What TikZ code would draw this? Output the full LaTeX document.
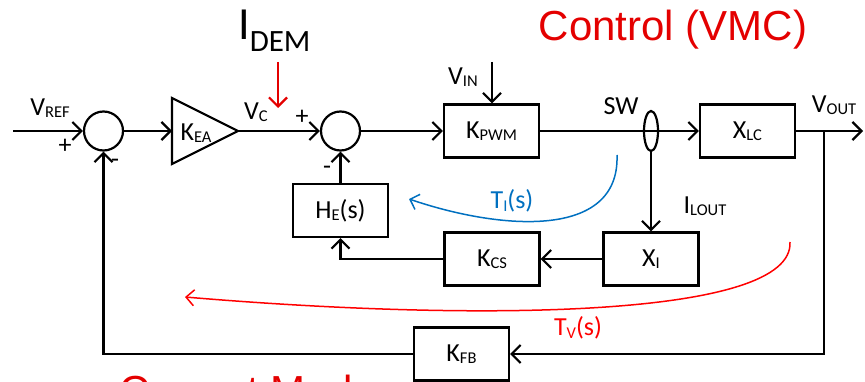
\documentclass[tikz,border=0pt]{standalone}
\usepackage{fontspec}
\setmainfont{Carlito}
\newfontfamily\arialfont{Liberation Sans}
\usetikzlibrary{shapes.geometric}
\usetikzlibrary{arrows.meta}
\usetikzlibrary{positioning}
\definecolor{vmcred}{RGB}{228,0,0}
\definecolor{tiblue}{RGB}{0,112,192}
\newcommand{\lo}[1]{\raisebox{-2.5pt}{\fontsize{16.5}{18}\selectfont #1}}
\tikzset{
  label_node/.style = {inner sep=0pt, font=\fontsize{26}{30}\selectfont},% etiquette
  block_node/.style = {draw=black, line width=2.2pt, minimum width=95pt,
    minimum height=53pt, inner sep=0pt, font=\fontsize{26}{30}\selectfont},% bloc
  sum_node/.style = {draw=black, circle, line width=2.2pt,
    minimum size=39pt, inner sep=0pt},% sommateur
  sense_node/.style = {draw=black, ellipse, line width=2.2pt,
    minimum width=14pt, minimum height=40pt, inner sep=0pt},% capteur courant
  title_node/.style = {inner sep=0pt, text=vmcred,
    font=\arialfont\fontsize{42}{48}\selectfont},% titre rouge
  wire/.style = {line width=2.2pt, -{Straight Barb[length=9pt,width=18pt]}},% liaison
  loop_curve/.style = {line width=1.5pt, -{Straight Barb[length=8pt,width=16pt]}}% gain de boucle
}
\begin{document}
\begin{tikzpicture}[x=1pt, y=-1pt]
  \useasboundingbox (0,0) rectangle (865,382);
  % blocs
  \node [sum_node] (sum1) at (103.5,131) {};
  \coordinate (kea_in) at (172,131);
  \coordinate (kea_out) at (238,131);
  \draw [line width=2.2pt] (172,98) -- (kea_out) -- (172,164) -- cycle;
  \node [label_node] (kea) at (196,133) {K\lo{EA}};
  \node [sum_node] (sum2) at (340.5,131) {};
  \node [block_node] (kpwm) at (491.5,131) {K\lo{PWM}};
  \node [block_node] (xlc) at (747.5,131) {X\lo{LC}};
  \node [block_node] (he) at (340.5,210.5) {H\lo{E}(s)};
  \node [block_node] (kcs) at (492,259) {K\lo{CS}};
  \node [block_node] (xi) at (651,259) {X\lo{I}};
  \node [block_node] (kfb) at (461.5,354) {K\lo{FB}};
  \coordinate (in) at (13,131);
  \coordinate (out) at (863,131);
  \coordinate (tap) at (824,131);
  \coordinate (vin) at (492,62);
  \coordinate (idem) at (278,62);
  \coordinate (idem_tip) at (278,108);
  % liaisons
  \draw [wire] (in) -- (sum1);
  \draw [wire] (sum1) -- (kea_in);
  \draw [wire] (kea_out) -- (sum2);
  \draw [wire] (sum2) -- (kpwm);
  \draw [wire] (kpwm) -- (xlc);
  \node [sense_node] (sense) at (651,131) {};
  \draw [wire] (xlc) -- (out);
  \draw [wire] (tap) |- (kfb);
  \draw [wire] (kfb) -| (sum1);
  \draw [wire] (sense) -- (xi);
  \draw [wire] (xi) -- (kcs);
  \draw [wire] (kcs) -| (he);
  \draw [wire] (he) -- (sum2);
  \draw [wire] (vin) -- (vin |- kpwm.north);
  \draw [wire, vmcred] (idem) -- (idem_tip);
  % etiquettes
  \node [label_node] (vref) at (50,108) {V\lo{REF}};
  \node [label_node] (plus1) at (65,146) {+};
  \node [label_node] (minus1) at (115,163) {-};
  \node [label_node] (vc) at (256,112) {V\lo{C}};
  \node [label_node] (plus2) at (302,117) {+};
  \node [label_node] (minus2) at (327,170) {-};
  \node [label_node] (vinl) at (463,77) {V\lo{IN}};
  \node [label_node] (sw) at (621,106) {SW};
  \node [label_node] (vout) at (834,105) {V\lo{OUT}};
  \node [label_node] (ilout) at (705,206) {I\lo{LOUT}};
  \node [inner sep=0pt, anchor=base west, font=\fontsize{46}{50}\selectfont]
    (idem_lbl) at (238,40) {I\raisebox{-12pt}{\fontsize{31}{34}\selectfont DEM}};
  % gains de boucle
  \coordinate (ti_start) at (617,155);
  \coordinate (ti_end) at (409,199);
  \draw [loop_curve, tiblue] (ti_start) .. controls (620,240) and (500,230) .. (ti_end);
  \node [label_node, tiblue] (ti) at (512,201) {T\lo{I}(s)};
  \coordinate (tv_start) at (790,242);
  \coordinate (tv_end) at (185,297);
  \draw [loop_curve, red] (tv_start) .. controls (794,318) and (480,322) .. (tv_end);
  \node [label_node, red] (tv) at (578,328) {T\lo{V}(s)};
  % titres
  \node [title_node] (vmc) at (673,30) {Control (VMC)};
  \node [title_node, anchor=base west] (cmc) at (119,405) {Current Mode};
\end{tikzpicture}
\end{document}
